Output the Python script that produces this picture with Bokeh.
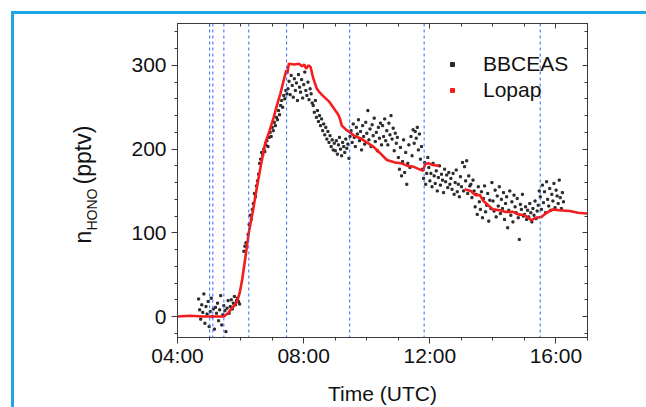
import numpy as np
from bokeh.plotting import figure
from bokeh.layouts import row
from bokeh.models import (Range1d, LinearAxis, SingleIntervalTicker, Span, Label,
                          Legend, LegendItem, CustomJSTickFormatter)
from bokeh.embed import file_html
from bokeh.resources import INLINE

nan = np.nan

# ---------------- data ----------------
event_times = [5.02, 5.12, 5.47, 6.26, 7.46, 9.46, 11.82, 15.50]

x_ticks = [4, 8, 12, 16]
x_tick_labels = ["04:00", "08:00", "12:00", "16:00"]

lopap_t = [4.00, 4.40, 4.80, 5.20, 5.47, 5.60, 5.68, 5.80, 5.89, 5.97,
           6.05, 6.15, 6.26, 6.40, 6.52, 6.65, 6.78, 6.92, 7.05, 7.15,
           7.26, 7.36, 7.45, 7.48, 7.53, 7.70, 7.85, 7.95, 8.02, 8.08,
           8.15, 8.22, 8.30, 8.42, 8.50, 8.63, 8.80, 8.95, 9.10, 9.16,
           9.21, 9.35, 9.47, 9.60, 9.79, 10.00, 10.21, 10.40, 10.64, 10.90,
           11.10, 11.30, 11.48, 11.60, 11.79, 11.85, 11.95, 12.10, 12.30, 12.70,
           13.10, 13.30, 13.45, 13.59, 13.70, 13.85, 14.00, 14.22, 14.40, 14.64,
           14.80, 15.01, 15.15, 15.22, 15.35, 15.54, 15.70, 15.91, 16.10, 16.44,
           16.70, 16.97, 17.00]
lopap_v = [0, 1, 0, 0, 0, 4, 8, 13, 18, 28,
           44, 70, 100, 128, 155, 182, 207, 222, 238, 252,
           266, 281, 294, 290, 302, 301, 302, 299, 301, 296,
           300, 298, 285, 272, 268, 263, 257, 249, 241, 235,
           228, 223, 220, 216, 213, 208, 203, 196, 187, 184,
           183, 180, 179, 177, 174, 182, 183, 181, 180, nan,
           152, 150, 145, 145, 138, 133, 128, 127, 125, 125,
           122, 121, 117, 115, 118, 119, 124, 128, 127, 126,
           124, 123, 123]

# BBCEAS: one value every 2 minutes starting 04:40 UTC
bb_start = 4.67
bb_step_h = 2.0 / 60.0
bb_a = [21, 8, -3, 14, 5, 27, -8, 12, 3, 18, -12, 6, 22, 0, 9, -15, 11, 4, 16, -5,
        8, 25, -10, 2, 13, 7, -18, 10, 19, 4]
bb_b = [12, 20, 9, 16, 24, 14, 19, 22]
bb_c = [18, 15, nan, nan, nan]
bb_d = [78, 84, 88, nan, 98, 110, 121, 116, 128, 135, 147, 143, 156, 162, 170, 183, 188, 196]
bb_e = [193, 200, 197, 205, 210, 203, 214, 220, 215, 226, 222, 232, 228, 238, 235, 246,
        241, 252, 258, 250, 264, 260, 270, 266]
bb_f = [272, 281, 265, 288, 276, 262, 284, 270, 279, 258, 289, 274, 268, 283, 261, 277,
        292, 270, 264, 280, 259, 272, 266, 255]
bb_g = [252, 244, 258, 238, 246, 233, 240, 228, 236, 222, 230, 217, 226, 212, 221, 208,
        216, 203, 211, 199, 207]
bb_h = [198, 210, 194, 205, 214, 200, 192, 208, 203, 196, 212, 201, 206, 189, 215]
bb_i = [222, 208, 230, 214, 203, 226, 218, 235, 210, 221, 199, 228, 215, 206, 232, 219,
        246, 211, 224, 203, 229, 216, 237, 209, 220, 198, 226, 213, 231, 205]
bb_j = [228, 215, 236, 210, 222, 205, 231, 217, 240, 212, 225, 198, 219, 207, 214]
bb_k = [190, 176, 202, 168, 185, 211, 172, 196, 158, 183, 205, 178, 215, 192, 223]
bb_l = [207, 221, 213, 226, 199, 218, 188, 203, 176, 165, 184, 158, 171, 190]
bb_m = [178, 162, 171, 155, 183, 168, 159, 174, 150, 166, 180, 157, 170, 163, 148, 176,
        161, 169, 154, 172, 158]
bb_n = [165, 152, 171, 146, 160, 175, 149, 158, 143, 167, 155, 184, 150, 179, 162, 186,
        147, 168, 156]
bb_o = [158, 142, 163, 150, 131, 146, 122, 155, 137, 128, 149, 118, 141, 156, 125, 133,
        147, 114, 139, 129, 160]
bb_p = [138, 126, 151, 119, 144, 132, 155, 123, 140, 129, 148, 116, 135, 143, 106, 127,
        150, 121, 137, 113, 145, 131, 124, 141, 118, 92, 134, 128, 146, 120]
bb_q = [122, 131, 116, 127, 119, 135, 124, 113, 129, 121, 138, 117, 126, 133, 150]
bb_r = [143, 128, 157, 136, 149, 124, 161, 140, 132, 153, 127, 146, 138, 159, 130, 151,
        144, 135, 163, 142, 129, 148, 137]

bb_v = (bb_a + bb_b + bb_c + bb_d + bb_e + bb_f + bb_g + bb_h + bb_i + bb_j + bb_k
        + bb_l + bb_m + bb_n + bb_o + bb_p + bb_q + bb_r)
bb_t = [bb_start + k * bb_step_h for k in range(len(bb_v))]

# ---------------- styling constants ----------------
FONT = "Liberation Sans"
AX = "#3a3a3a"
TXT = "#111111"
RED = "#F41C1C"
H = 393
W_LAB = 100
W_MAIN = 532

# ---------------- y-title panel (narrow figure beside the main one) ----------------
ft = figure(width=W_LAB, height=H, x_range=Range1d(0, W_LAB), y_range=Range1d(0, H),
            output_backend="svg", toolbar_location=None,
            x_axis_location=None, y_axis_location=None,
            min_border=0, min_border_left=0, min_border_right=0,
            min_border_top=0, min_border_bottom=0)
ft.xgrid.visible = False
ft.ygrid.visible = False
ft.outline_line_color = None
ft.background_fill_color = "white"
ft.border_fill_color = "white"

lab_kw = dict(x_units="screen", y_units="screen", angle=np.pi / 2, text_font=FONT,
              text_color=TXT, text_align="left", text_baseline="alphabetic")
ft.add_layout(Label(x=68, y=94, text="n", text_font_size="23px", **lab_kw))
ft.add_layout(Label(x=77, y=107, text="HONO", text_font_size="14px", **lab_kw))
ft.add_layout(Label(x=68, y=153, text="(pptv)", text_font_size="23px", **lab_kw))

# ---------------- main figure ----------------
p = figure(width=W_MAIN, height=H, x_range=Range1d(4, 17), y_range=Range1d(-25, 350),
           output_backend="svg", toolbar_location=None,
           min_border_left=63, min_border_top=9, min_border_right=59, min_border_bottom=70)
p.xgrid.visible = False
p.ygrid.visible = False
p.outline_line_color = AX
p.outline_line_width = 1
p.background_fill_color = "white"
p.border_fill_color = "white"

xt = SingleIntervalTicker(interval=4, num_minor_ticks=4)
yt = SingleIntervalTicker(interval=100, num_minor_ticks=5)

xa = p.xaxis[0]
xa.ticker = xt
xa.major_label_overrides = dict(zip(x_ticks, x_tick_labels))
ya = p.yaxis[0]
ya.ticker = yt

for ax in (xa, ya):
    ax.axis_line_color = AX
    ax.major_tick_line_color = AX
    ax.minor_tick_line_color = AX
    ax.major_tick_out = 6
    ax.major_tick_in = 0
    ax.minor_tick_out = 3
    ax.minor_tick_in = 0
    ax.major_label_text_font = FONT
    ax.major_label_text_font_size = "21px"
    ax.major_label_text_color = TXT
xa.major_label_standoff = 0
ya.major_label_standoff = 5

xa.axis_label = "Time (UTC)"
xa.axis_label_text_font = FONT
xa.axis_label_text_font_size = "21px"
xa.axis_label_text_font_style = "normal"
xa.axis_label_text_color = TXT
xa.axis_label_standoff = 12

blank = CustomJSTickFormatter(code="return ''")
top_ax = LinearAxis(ticker=xt, formatter=blank)
right_ax = LinearAxis(ticker=yt, formatter=blank)
for ax in (top_ax, right_ax):
    ax.axis_line_color = AX
    ax.major_tick_line_color = AX
    ax.minor_tick_line_color = AX
    ax.major_tick_in = 5
    ax.major_tick_out = 0
    ax.minor_tick_in = 3
    ax.minor_tick_out = 0
    ax.major_label_text_font_size = "1px"
    ax.major_label_standoff = 0
p.add_layout(top_ax, "above")
p.add_layout(right_ax, "right")

# vertical event markers
for t in event_times:
    p.add_layout(Span(location=t, dimension="height", line_color="#3567EE",
                      line_width=1, line_dash="3 3"))

# data
bb_rend = p.scatter(bb_t, bb_v, marker="square", size=2.1, color="#2a2a2a")
lp_rend = p.line(lopap_t, lopap_v, line_color=RED, line_width=2.6)
lp_key = p.scatter(x=[nan], y=[nan], marker="square", size=4, color=RED)

legend = Legend(items=[LegendItem(label="BBCEAS", renderers=[bb_rend]),
                       LegendItem(label="Lopap", renderers=[lp_key])],
                location=(270, 235), padding=0, margin=0, spacing=2,
                glyph_width=10, glyph_height=10, label_height=24, label_standoff=26,
                label_text_font=FONT, label_text_font_size="21px",
                label_text_color=TXT,
                border_line_color=None, background_fill_alpha=0)
p.add_layout(legend)

layout = row(ft, p, spacing=0)
layout.styles = {"margin-left": "11px", "margin-top": "11px",
                 "border-left": "3px solid #1AA7E4", "border-top": "3px solid #1AA7E4"}

open("out.html", "w").write(file_html(layout, INLINE))
